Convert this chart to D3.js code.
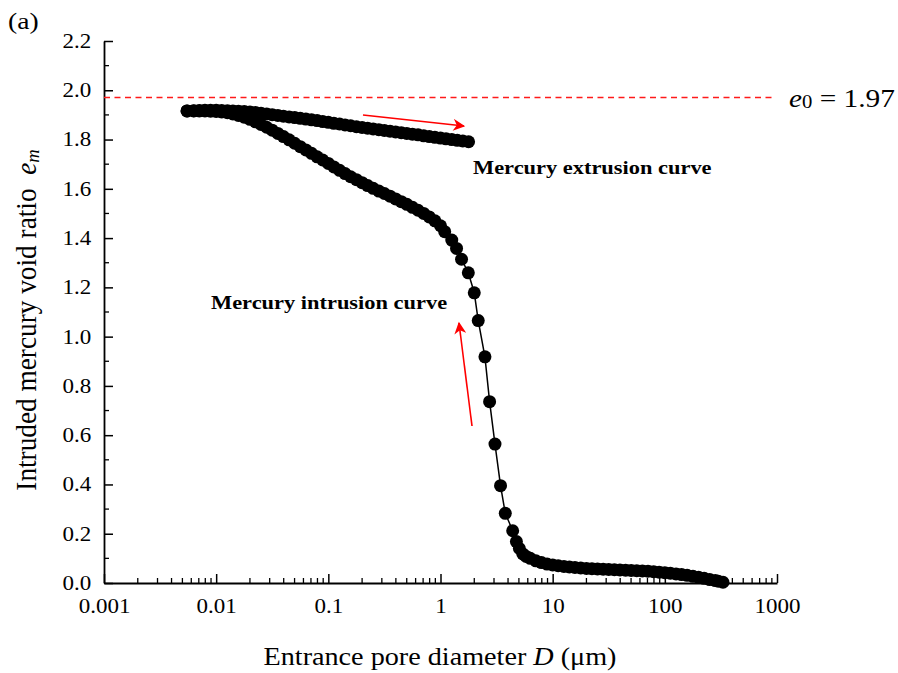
<!DOCTYPE html>
<html>
<head>
<meta charset="utf-8">
<script src="https://cdn.jsdelivr.net/npm/d3@7"></script>
<style>
  body { margin: 0; background: #fff; }
  svg { display: block; font-family: 'Liberation Serif', 'Times New Roman', serif; }
</style>
</head>
<body>
<svg id="chart" width="898" height="673"></svg>
<script>
// DATA
// intrusion branch, large pores -> small pores
const intrusionD = [330, 300, 282, 251, 224, 200, 178, 158, 141, 126, 112, 100, 89.1, 79.4, 70.8, 63.1, 56.2, 50.1,
  44.7, 39.8, 35.5, 31.6, 28.2, 25.1, 22.4, 20.0, 17.8, 15.8, 14.1, 12.6, 11.2, 10.0, 8.91, 7.94, 7.08, 6.31,
  5.80, 5.42, 5.05, 4.75, 4.40, 3.78, 3.43, 3.06, 2.74, 2.49, 2.17, 2.00, 1.77, 1.54, 1.39, 1.26, 1.09, 1.00,
  0.891, 0.794, 0.708, 0.631, 0.562, 0.501, 0.447, 0.398, 0.355, 0.316, 0.282, 0.251, 0.224, 0.200, 0.178,
  0.158, 0.141, 0.126, 0.112, 0.100, 0.0891, 0.0794, 0.0708, 0.0631, 0.0562, 0.0501, 0.0447, 0.0398, 0.0355,
  0.0316, 0.0282, 0.0251, 0.0224, 0.0200, 0.0178, 0.0158, 0.0141, 0.0126, 0.0112, 0.0100, 0.00891, 0.00794,
  0.00708, 0.00631, 0.0055];
const intrusionE = [0.003, 0.007, 0.010, 0.014, 0.019, 0.023, 0.027, 0.031, 0.034, 0.037, 0.040, 0.042, 0.044,
  0.046, 0.048, 0.049, 0.050, 0.051, 0.052, 0.053, 0.054, 0.055, 0.056, 0.057, 0.058, 0.059, 0.061, 0.063,
  0.065, 0.067, 0.070, 0.073, 0.077, 0.083, 0.090, 0.100, 0.108, 0.118, 0.140, 0.168, 0.212, 0.283, 0.395,
  0.564, 0.736, 0.918, 1.065, 1.178, 1.259, 1.314, 1.358, 1.392, 1.426, 1.450, 1.470, 1.486, 1.500, 1.513,
  1.525, 1.537, 1.548, 1.559, 1.570, 1.581, 1.591, 1.602, 1.613, 1.625, 1.637, 1.649, 1.662, 1.675, 1.689,
  1.703, 1.717, 1.730, 1.744, 1.758, 1.771, 1.785, 1.799, 1.812, 1.825, 1.838, 1.850, 1.861, 1.872, 1.882,
  1.891, 1.898, 1.904, 1.909, 1.912, 1.914, 1.915, 1.916, 1.916, 1.916, 1.916];

// extrusion branch, small pores -> large pores
const extrusionD = [0.0055, 0.00631, 0.00708, 0.00794, 0.00891, 0.0100, 0.0112, 0.0126, 0.0141, 0.0158, 0.0178,
  0.0200, 0.0224, 0.0251, 0.0282, 0.0316, 0.0355, 0.0398, 0.0447, 0.0501, 0.0562, 0.0631, 0.0708, 0.0794,
  0.0891, 0.100, 0.112, 0.126, 0.141, 0.158, 0.178, 0.200, 0.224, 0.251, 0.282, 0.316, 0.355, 0.398, 0.447,
  0.501, 0.562, 0.631, 0.708, 0.794, 0.891, 1.00, 1.12, 1.26, 1.41, 1.58, 1.78];
const extrusionE = [1.916, 1.917, 1.918, 1.919, 1.919, 1.919, 1.918, 1.917, 1.916, 1.915, 1.914, 1.912, 1.910,
  1.907, 1.904, 1.901, 1.898, 1.895, 1.892, 1.889, 1.886, 1.883, 1.880, 1.877, 1.873, 1.870, 1.866, 1.863,
  1.859, 1.856, 1.852, 1.849, 1.846, 1.843, 1.840, 1.837, 1.834, 1.831, 1.828, 1.825, 1.822, 1.819, 1.815,
  1.812, 1.809, 1.806, 1.803, 1.800, 1.797, 1.794, 1.791];

const e0 = 1.97;
const xTickValues = [0.001, 0.01, 0.1, 1, 10, 100, 1000];
const xTickLabels = ['0.001', '0.01', '0.1', '1', '10', '100', '1000'];
const yTickValues = [0.0, 0.2, 0.4, 0.6, 0.8, 1.0, 1.2, 1.4, 1.6, 1.8, 2.0, 2.2];

// LAYOUT
const svg = d3.select('#chart');
const plotLeft = 104, plotRight = 777, plotTop = 41, plotBottom = 583;
const sx = 1.15; // the source figure's text is a little wide

const x = d3.scaleLog().domain([0.001, 1000]).range([plotLeft, plotRight]);
const y = d3.scaleLinear().domain([0, 2.2]).range([plotBottom, plotTop]);

// minor ticks
const xMinor = [];
for (let p = -3; p < 3; p++) {
  for (let k = 2; k <= 9; k++) xMinor.push(k * Math.pow(10, p));
}
const yMinor = d3.range(1, 22, 2).map((d) => d / 10);

// AXES
const xAxis = d3.axisBottom(x).tickValues(xTickValues)
  .tickFormat((d, i) => xTickLabels[i]).tickSizeInner(-9).tickSizeOuter(0).tickPadding(16);
const yAxis = d3.axisLeft(y).tickValues(yTickValues)
  .tickFormat(d3.format('.1f')).tickSizeInner(-9).tickSizeOuter(0).tickPadding(11);

const gx = svg.append('g').attr('transform', `translate(0,${plotBottom})`).call(xAxis);
const gy = svg.append('g').attr('transform', `translate(${plotLeft},0)`).call(yAxis);

gx.append('g').selectAll('line').data(xMinor).join('line')
  .attr('x1', (d) => x(d)).attr('x2', (d) => x(d))
  .attr('y1', 0).attr('y2', -5).attr('stroke', '#000').attr('stroke-width', 1.3);
gy.append('g').selectAll('line').data(yMinor).join('line')
  .attr('y1', (d) => y(d)).attr('y2', (d) => y(d))
  .attr('x1', 0).attr('x2', 5).attr('stroke', '#000').attr('stroke-width', 1.3);

[gx, gy].forEach((g) => {
  g.select('.domain').attr('stroke', '#000').attr('stroke-width', 1.8);
  g.selectAll('.tick line').attr('stroke', '#000').attr('stroke-width', 1.5);
  g.selectAll('.tick text').attr('font-family', "'Liberation Serif', serif")
    .attr('font-size', 20).attr('fill', '#000').attr('transform', `scale(${sx},1)`);
});

/**
 * Adds a horizontally stretched text at (px, py).
 */
function addText(px, py, size, anchor) {
  return svg.append('text')
    .attr('transform', `translate(${px},${py}) scale(${sx},1)`)
    .attr('text-anchor', anchor || 'start')
    .attr('font-size', size).attr('fill', '#000')
    .attr('xml:space', 'preserve');
}

// REFERENCE LINE e0
const e0y = Math.round(y(e0)) - 0.5;
svg.append('line')
  .attr('x1', plotLeft).attr('x2', 776)
  .attr('y1', e0y).attr('y2', e0y)
  .attr('stroke', '#ff1a1a').attr('stroke-width', 1.3).attr('stroke-dasharray', '6,4.5');

const e0Text = addText(789, y(e0) + 9, 25.5);
e0Text.append('tspan').attr('font-style', 'italic').text('e');
e0Text.append('tspan').attr('font-size', 18).attr('dy', 1).text('0');
e0Text.append('tspan').attr('dy', -1).text(' = ' + e0.toFixed(2));

// CURVES
const intrusion = intrusionD.map((d, i) => [d, intrusionE[i]]);
const extrusion = extrusionD.map((d, i) => [d, extrusionE[i]]);
const line = d3.line().x((d) => x(d[0])).y((d) => y(d[1]));

[intrusion, extrusion].forEach((series) => {
  svg.append('path').datum(series)
    .attr('d', line).attr('fill', 'none').attr('stroke', '#000').attr('stroke-width', 1.5);
  svg.append('g').selectAll('circle').data(series).join('circle')
    .attr('cx', (d) => x(d[0])).attr('cy', (d) => y(d[1])).attr('r', 6.5).attr('fill', '#000');
});

// ARROWS
const defs = svg.append('defs');
defs.append('marker').attr('id', 'arrowhead')
  .attr('viewBox', '0 0 10 10').attr('refX', 9).attr('refY', 5)
  .attr('markerWidth', 13).attr('markerHeight', 12).attr('markerUnits', 'userSpaceOnUse')
  .attr('orient', 'auto')
  .append('path').attr('d', 'M0,0 L10,5 L0,10 L3,5 Z').attr('fill', '#ff0000');

svg.append('line').attr('x1', 363).attr('y1', 115).attr('x2', 464).attr('y2', 126)
  .attr('stroke', '#ff0000').attr('stroke-width', 1.6).attr('marker-end', 'url(#arrowhead)');
svg.append('line').attr('x1', 472).attr('y1', 426).attr('x2', 459).attr('y2', 323)
  .attr('stroke', '#ff0000').attr('stroke-width', 1.6).attr('marker-end', 'url(#arrowhead)');

// ANNOTATIONS
addText(473, 174, 19.5).attr('font-weight', 'bold').text('Mercury extrusion curve');
addText(211, 309, 19.5).attr('font-weight', 'bold').text('Mercury intrusion curve');
addText(8, 29, 24).text('(a)');

// AXIS TITLES
const xt = addText(440, 665, 24.5, 'middle');
xt.append('tspan').text('Entrance pore diameter ');
xt.append('tspan').attr('font-style', 'italic').text('D');
xt.append('tspan').text(' (μm)');

const yt = svg.append('text')
  .attr('transform', 'translate(36,320) rotate(-90) scale(1.03,1.1)')
  .attr('text-anchor', 'middle').attr('font-size', 26.5)
  .attr('xml:space', 'preserve');
yt.append('tspan').text('Intruded mercury void ratio  ');
yt.append('tspan').attr('font-style', 'italic').text('e');
yt.append('tspan').attr('font-style', 'italic').attr('font-size', 18).attr('dy', 3).text('m');
</script>
</body>
</html>
